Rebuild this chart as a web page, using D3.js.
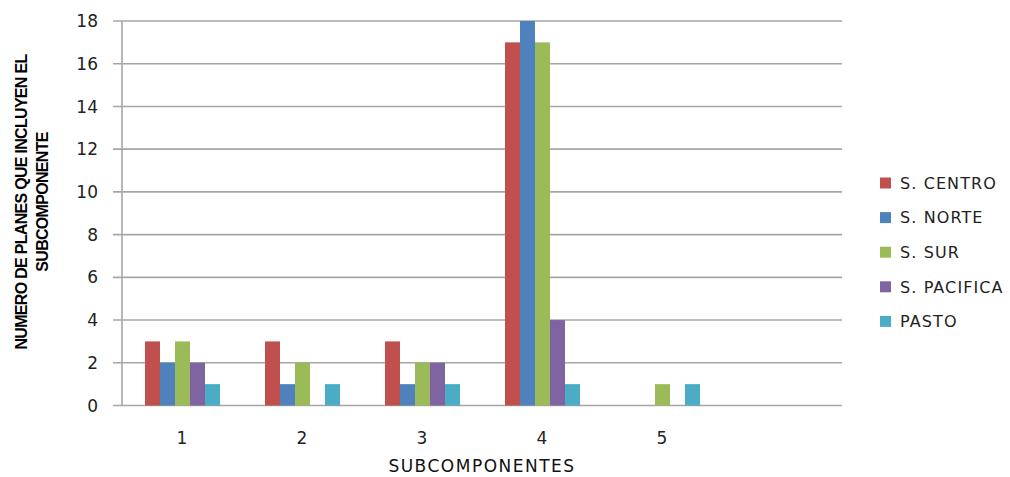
<!DOCTYPE html>
<html><head><meta charset="utf-8">
<script src="https://cdn.jsdelivr.net/npm/d3@7"></script>
<style>body{margin:0;background:#fff}svg{display:block}</style>
</head><body>
<svg id="c" width="1010" height="477"></svg>
<script>
const categories = ["1","2","3","4","5",""];
const seriesNames = ["S. CENTRO","S. NORTE","S. SUR","S. PACIFICA","PASTO"];
const sCentro   = [3,3,3,17,0];
const sNorte    = [2,1,1,18,0];
const sSur      = [3,2,2,17,1];
const sPacifica = [2,0,2,4,0];
const pasto     = [1,1,1,1,1];
const yTicks = [0,2,4,6,8,10,12,14,16,18];
const colors = ["#C0504D","#4F81BD","#9BBB59","#8064A2","#4BACC6"];
const seriesValues = [sCentro,sNorte,sSur,sPacifica,pasto];

const svg = d3.select("#c");
const L=122,R=842,T=21,B=405.5;
const x = d3.scaleBand().domain(categories).range([L,R]).paddingInner(0).paddingOuter(0);
const y = d3.scaleLinear().domain([0,18]).range([B,T]);
const inner = d3.scaleBand().domain(seriesNames).range([23,23+75]);

// gridlines
svg.append("g").selectAll("line").data(yTicks).join("line")
  .attr("x1",113).attr("x2",R).attr("y1",d=>y(d)).attr("y2",d=>y(d))
  .attr("stroke","#a6a6a6").attr("stroke-width",1.6);
// y axis line
svg.append("line").attr("x1",L).attr("x2",L).attr("y1",T).attr("y2",B)
  .attr("stroke","#a6a6a6").attr("stroke-width",1.6);

// y labels
svg.append("g").selectAll("text").data(yTicks).join("text")
  .attr("x",98).attr("y",d=>y(d)).attr("dy","0.36em").attr("text-anchor","end")
  .attr("font-family","DejaVu Sans").attr("font-size",17).attr("fill","#222")
  .text(d=>d);

// bars
seriesNames.forEach((s,i)=>{
  svg.append("g").selectAll("rect").data(seriesValues[i].map((v,j)=>({c:categories[j],v})).filter(d=>d.v>0)).join("rect")
    .attr("x",d=>x(d.c)+inner(s)).attr("width",inner.bandwidth())
    .attr("y",d=>y(d.v)).attr("height",d=>B-y(d.v)).attr("fill",colors[i]);
});
// x labels
svg.append("g").selectAll("text").data(categories.filter(c=>c)).join("text")
  .attr("x",d=>x(d)+x.bandwidth()/2).attr("y",444).attr("text-anchor","middle")
  .attr("font-family","DejaVu Sans").attr("font-size",17).attr("fill","#222").text(d=>d);

// x title
svg.append("text").attr("x",482).attr("y",472).attr("text-anchor","middle")
  .attr("font-family","DejaVu Sans").attr("font-size",17).attr("letter-spacing",1.5).attr("fill","#111")
  .text("SUBCOMPONENTES");

// y title
const yt = svg.append("text").attr("transform","translate(0,202) rotate(-90)")
  .attr("text-anchor","middle").attr("font-family","Liberation Sans").attr("font-weight","bold")
  .attr("font-size",16).attr("fill","#000").attr("letter-spacing",-0.7);
yt.append("tspan").attr("x",0).attr("y",27).text("NUMERO DE PLANES QUE INCLUYEN EL");
yt.append("tspan").attr("x",0).attr("y",48).text("SUBCOMPONENTE");

// legend
const lg = svg.append("g").selectAll("g").data(seriesNames).join("g")
  .attr("transform",(d,i)=>`translate(880,${183+i*34.6})`);
lg.append("rect").attr("x",0).attr("y",-5.5).attr("width",11).attr("height",11).attr("fill",(d,i)=>colors[i]);
lg.append("text").attr("x",20).attr("y",0).attr("dy","0.36em")
  .attr("font-family","DejaVu Sans").attr("font-size",16).attr("letter-spacing",1.1).attr("fill","#222").text(d=>d);
</script>
</body></html>
